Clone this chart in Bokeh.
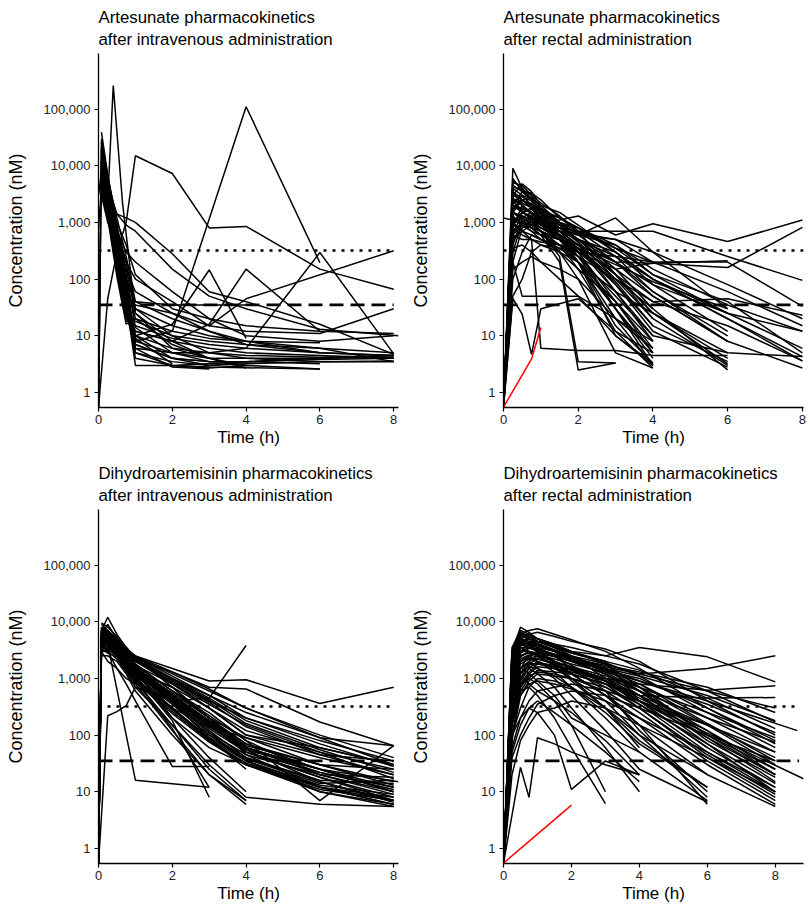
from bokeh.plotting import figure
from bokeh.models import FixedTicker, NumeralTickFormatter, Range1d, Title
from bokeh.layouts import column, row
from bokeh.embed import file_html
from bokeh.resources import INLINE

N = None

TIME_TICKS = [0, 2, 4, 6, 8]
CONC_TICKS = [1, 10, 100, 1000, 10000, 100000]
REF_DOTTED = 320
REF_DASHED = 35

TITLES = [
    "Artesunate pharmacokinetics\nafter intravenous administration",
    "Artesunate pharmacokinetics\nafter rectal administration",
    "Dihydroartemisinin pharmacokinetics\nafter intravenous administration",
    "Dihydroartemisinin pharmacokinetics\nafter rectal administration",
]

# ---------------- Artesunate, intravenous ----------------
T_AS_IV = [0, 0.08, 0.25, 0.4, 0.5, 0.65, 0.75, 1, 2, 3, 4, 6, 8, 8.13]
AS_IV = [
    [N, 39000, 7000, N, 900, N, 120, 14, 5, 3.5, N, N, N, N],
    [0.55, 28000, 5000, N, 600, N, 80, 9, 3.2, N, N, N, N, N],
    [N, 20000, 4200, N, 500, N, 60, 6, 2.8, 2.6, N, N, N, N],
    [N, 15000, 3500, N, 420, N, 45, 4, 3, 2.7, 3, 2.6, N, N],
    [0.55, 12000, 3000, N, 350, N, 40, 3, 3, N, 3.5, N, N, N],
    [N, 10000, 2800, N, 300, N, 35, 5, 3.5, 3, 3.2, 3.5, 3.6, N],
    [N, 9000, 2500, N, 260, N, 30, 7, 4, 3.5, 3.5, 3.8, 4, N],
    [3000, 8000, 2200, N, 240, N, 28, 8, 5, 4, 4, 4, 4.2, N],
    [N, 7000, 2000, N, 200, N, 25, 10, 6, 5, 4.5, 4.2, 4.5, N],
    [N, 6000, 1800, N, 180, N, 22, 12, 8, 6, 5, 4.5, 4, N],
    [N, 5000, 1500, N, 150, N, 20, 15, 9, 7, 6, 5, 4.5, N],
    [800, 4000, 1300, N, 130, N, 18, 18, 10, 8, 7, 6, 5, N],
    [N, 3500, 1200, N, 110, N, 16, 20, 12, 9, 8, 7.5, N, N],
    [N, 3000, 1000, N, 400, N, 100, 40, 20, 12, 7, 5, 4.5, N],
    [N, 25000, 6000, N, 1200, N, 250, 40, 35, 35, 35, N, N, N],
    [N, 18000, 4500, N, 1400, N, 1200, 1000, 280, 60, 40, 16, 4.7, N],
    [N, 8000, 3000, N, 1400, N, 900, 700, 150, 50, 30, 13, N, 10],
    [N, 5000, 2400, 260000, N, 2240, N, 25, 6, 4, N, N, N, N],
    [0.55, N, 45, N, 300, N, 1000, 15000, 7300, 800, 850, 150, 66, N],
    [N, 12000, 3000, N, 400, N, 50, 8, 12, N, 110000, 195, N, N],
    [N, 9000, 2600, N, 350, N, 40, 10, 16, 145, 9, N, N, N],
    [N, 7000, 2000, N, 250, N, 30, 12, 8, 16, 150, 12, N, N],
    [N, 6000, 1700, N, 200, N, 25, 6, 5, 5, 6, 295, 4.8, N],
    [N, 5000, 1500, N, 500, N, 150, 60, 25, 15, 45, N, 316, N],
    [N, 30000, 6500, N, 800, N, 200, 30, 10, 5, 4, 3.5, 3.5, N],
    [N, 22000, 5500, N, 700, N, 150, 25, 8, 4, 3, N, N, N],
    [N, 16000, 4000, N, 600, N, 100, 20, 7, 4, 2.7, N, N, N],
    [N, 11000, 3200, N, 450, N, 70, 10, 4, 3.5, 3.5, 3.2, N, N],
    [N, 4500, 1400, N, 700, N, 300, 200, 60, 20, 10, 8, 10, N],
    [N, 3800, 1600, N, 500, N, 200, 100, 40, 15, 12, 11, 30, N],
    [N, 6500, 2000, N, 300, N, 60, 30, 15, 10, 8, 6, 3.5, N],
    [N, 14000, 3800, N, 550, N, 90, 7, 4, 3, 3.5, 4, 4.5, N],
    [N, 2500, 2000, N, 1000, N, 400, 120, 30, 20, 15, 12, 11, N],
    [N, 10000, 2900, N, 320, N, 45, 35, 25, 12, 8, 5, N, N],
    [0.55, 20000, 5000, N, 700, N, 90, 5, 3, 2.8, N, 2.6, N, N],
]

# ---------------- Artesunate, rectal ----------------
T_AS_RECT = [0, 0.25, 0.5, 0.75, 1, 1.5, 2, 3, 4, 6, 8]
AS_RECT = [
    [0.55, 9000, 4000, 2500, 1500, 700, 400, 80, 15, N, N],
    [0.55, 5000, 4500, 3000, 1800, 900, 500, 150, 30, N, N],
    [0.55, 3000, 4800, 3500, 2000, 1000, 600, 200, 50, 8, N],
    [0.55, 2000, 3500, 3300, 2500, 1200, 700, 250, 60, 10, N],
    [0.55, 1500, 2500, 2800, 1500, 800, 450, 100, 20, 3, N],
    [0.55, 800, 2000, 2200, 1200, 700, 400, 120, 25, 4, N],
    [0.55, 600, 1500, 1800, 1100, 600, 350, 60, 10, N, N],
    [0.55, 400, 1200, 1500, 1000, 550, 300, 40, 5, N, N],
    [0.55, 300, 1000, 1300, 900, 500, 250, 30, 3, N, N],
    [0.55, 200, 800, 1100, 1300, 800, 500, 250, 100, 20, 4.3],
    [0.55, 1200, 1000, 900, 1000, 1100, 1300, 600, 950, 460, 1100],
    [0.55, 700, 900, 800, 700, 500, 400, 200, 190, 160, 820],
    [0.55, 2500, 1500, 1200, 900, 700, 600, 1200, 300, 30, N],
    [0.55, 3500, 2000, 1400, 1100, 800, 700, 700, 700, 250, 95],
    [0.55, 1800, 1700, 1500, 1200, 900, 650, 500, 200, 200, 33],
    [0.55, 1000, 1500, 1300, 1000, 700, 500, 150, 190, 210, N],
    [0.55, 500, 800, 1000, 800, 600, 400, 120, 40, 45, 23],
    [0.55, 4000, 3000, 2000, 1200, 600, 250, 50, 10, 5, 4.3],
    [0.55, 6000, 3500, 2500, 1400, 700, 300, 30, 4, N, N],
    [0.55, 2500, 2200, 1800, 1000, 500, 200, 20, 3, N, N],
    [0.55, 1500, 1200, 1000, 700, 400, 150, 12, 2.7, N, N],
    [0.55, 45, 24, 4.7, 30, N, 45, 12, 5, N, N],
    [0.55, 100, 300, 600, 500, 300, 150, 40, 8, N, N],
    [0.55, 1000, 700, 500, 6, N, 5.5, 5.5, 4.5, 4.5, N],
    [0.55, 200, 50, N, N, N, 50, 20, 8, N, N],
    [0.55, 3000, 2500, 2000, 1500, 1000, 800, 300, 100, 20, 3.6],
    [0.55, 2000, 1800, 1500, 1100, 800, 600, 400, 150, 35, 12],
    [0.55, 1500, 1300, 1100, 900, 700, 500, 300, 100, 25, 12],
    [0.55, 3500, 2500, 1800, 1200, 800, 500, 200, 60, 8, 2.7],
    [0.55, 1200, 1000, 800, 600, 400, 250, 100, 40, 15, 3.6],
    [0.55, 800, 600, 500, 400, 350, 300, 250, 200, N, N],
    [0.55, 4500, 3500, 2500, 1500, 600, 200, 15, 3.3, N, N],
    [0.55, 2000, 1500, 1200, 900, 500, 200, 10, 3, N, N],
    [0.55, 1000, 1200, 900, 700, 300, 100, 5, 2.7, N, N],
    [0.55, 1500, 1100, 800, 600, 200, 2.5, 3.3, N, N, N],
    [0.55, 2000, 1600, 1100, 700, 250, 3.5, 3.3, N, N, N],
    [0.55, 700, 1000, 800, 600, 400, 200, 40, 6, N, N],
    [0.55, 2500, 2000, 1500, 1000, 600, 350, 100, 30, 2.5, N],
    [0.55, 1300, 900, 700, 500, 350, 200, 60, 25, 3.2, N],
    [0.55, 900, 700, 600, 500, 400, 300, 150, 50, 8, N],
    [0.55, 600, 500, 500, 450, 400, 350, 80, 12, 2.8, N],
    [0.55, 350, 400, 300, 200, 100, 50, 10, 3.3, N, N],
    [0.55, 150, 200, 250, 200, 150, 100, 20, 6, N, N],
    [0.55, 50, 100, 300, 400, 300, 200, 30, 5, N, N],
    [1200, 1100, 900, 700, 600, 500, 400, 200, 80, 25, N],
    [0.55, 2200, 3000, 2600, 2000, 1500, 900, 300, 80, 12, N],
    [0.55, 1800, 2500, 2000, 1600, 1200, 800, 400, 120, 25, 6],
    [0.55, 900, 1500, 1700, 1400, 1000, 700, 350, 200, 60, 15],
    [0.55, 4200, 3800, 3000, 2200, 1300, 700, 120, 20, N, N],
    [0.55, 3200, 2800, 2400, 1800, 1000, 450, 60, 8, N, N],
    [0.55, 600, 900, 1200, 1000, 800, 600, 500, 300, 80, 20],
    [0.55, 2600, 2400, 2100, 1700, 1200, 800, 350, 120, 40, 5],
    [0.55, 1100, 1300, 1100, 800, 500, 300, 90, 15, 3.5, N],
    [0.55, 500, 700, 900, 700, 500, 350, 180, 90, 30, N],
    [0.55, 5500, 4000, 2600, 1600, 900, 500, 120, 25, 5, N],
]
RED_AS_RECT_T = [0, 0.75, 1]
RED_AS_RECT_C = [0.55, 3.9, 14]

# ---------------- Dihydroartemisinin, intravenous ----------------
T_DHA_IV = [0, 0.08, 0.25, 0.5, 0.75, 1, 2, 3, 4, 6, 8, 8.13]
DHA_IV = [
    [0.55, 8000, 6000, 4000, 2800, 2000, 900, 400, 200, 80, 35, N],
    [0.55, 7000, 12000, 6000, 3500, 2200, 800, 300, 120, 50, 25, N],
    [0.55, 6000, 9000, 5000, 3000, 1800, 600, 200, 90, 30, 15, N],
    [0.55, 5000, 7000, 4500, 2800, 1600, 500, 180, 70, 25, 10, N],
    [0.55, 4500, 6000, 4000, 2500, 1500, 450, 150, 50, 18, 8, N],
    [0.55, 4000, 5500, 3800, 2300, 1400, 400, 120, 40, 15, 7, N],
    [0.55, 3500, 5000, 3500, 2100, 1300, 350, 100, 35, 12, 6, N],
    [0.55, 3000, 4500, 3200, 2000, 1200, 300, 80, 30, 10, 5.5, N],
    [N, 8000, 7000, 5000, 3300, 2400, 1200, 600, 300, 100, 40, N],
    [N, 7500, 6500, 4500, 3000, 2000, 1000, 500, 250, 90, 30, N],
    [N, 6000, 5500, 4500, 3200, 2500, 1500, 900, 950, 360, 700, N],
    [0.55, 5000, 4500, 3800, 3000, 2200, 1300, 700, 650, 170, 65, N],
    [N, 5000, 4000, N, N, 16, N, 12, N, N, N, N],
    [0.55, 3000, 2000, 1500, 1000, 800, 400, 450, 3800, N, N, N],
    [0.55, N, 220, 260, 330, 700, 400, 150, 50, 18, 7, N],
    [N, 4000, 3000, 1500, 800, 400, 28, 28, N, N, N, N],
    [0.55, 6500, 5000, 3000, 1800, 1000, 200, 40, 10, N, N, N],
    [0.55, 5500, 4500, 2800, 1600, 900, 150, 25, 7, N, N, N],
    [0.55, 5000, 4000, 2500, 1400, 800, 120, 20, 6, N, N, N],
    [N, 7000, 5500, 3500, 2000, 1100, 180, 8, N, N, N, N],
    [N, 6000, 5000, 3000, 1700, 900, 130, 12, N, N, N, N],
    [N, 6500, 5200, 3500, 2200, 1400, 500, 150, 60, 20, 10, N],
    [N, 5000, 4800, 3300, 2100, 1300, 450, 140, 55, 25, 12, N],
    [N, 4800, 4500, 3100, 2000, 1250, 420, 130, 50, 22, 11, N],
    [N, 4500, 4200, 3000, 1900, 1200, 380, 110, 45, 20, 18, N],
    [N, 4000, 4000, 2900, 1800, 1100, 350, 100, 40, 16, 14, N],
    [N, 3800, 3800, 2800, 1700, 1000, 300, 90, 38, 14, 16, N],
    [N, 3500, 3600, 2700, 1600, 950, 280, 85, 35, 13, 9, N],
    [N, 3200, 3400, 2600, 1500, 900, 260, 80, 32, 12, 8, N],
    [N, 3000, 3200, 2500, 1400, 850, 240, 75, 30, 11, 7, N],
    [N, 7000, 6000, 4500, 3200, 2300, 1000, 450, 180, 60, 30, N],
    [N, 7500, 6200, 4600, 3300, 2400, 1100, 500, 200, 70, 28, N],
    [N, 6800, 5800, 4400, 3100, 2200, 950, 420, 160, 55, 22, N],
    [N, 6200, 5500, 4200, 3000, 2100, 850, 380, 140, 45, 20, N],
    [N, 8000, 6500, 4800, 3400, 2500, 1300, 650, 300, 90, 65, N],
    [N, 5800, 5000, 3800, 2600, 1700, 600, 250, 80, 7, 65, N],
    [N, 9000, 7000, 4000, 2500, 1500, 500, 180, 60, 25, N, 15],
    [N, 4500, 4000, 3000, 2000, 1300, 700, 300, 100, 60, 30, N],
    [N, 5500, 4800, 3600, 2400, 1500, 550, 200, 70, 30, 25, N],
    [N, 3000, 3000, 2200, 1300, 700, 150, 30, 8, 6, 5.5, N],
    [0.55, 2500, 2500, 2000, 1200, 600, 100, 20, 7, N, N, N],
    [N, 6000, 5500, 3800, 2300, 1400, 200, 60, 30, 12, 6, N],
    [N, 3300, 2800, 2400, 1500, 1000, 300, 140, 90, 40, 20, N],
    [N, 4200, 3900, 3000, 2000, 1400, 700, 200, 60, 25, 10, N],
    [N, 7800, 7000, 5000, 3300, 2000, 800, 300, 100, 45, 35, N],
    [0.55, 7000, 6000, 4200, 2600, 1700, 600, 220, 80, 20, 9, N],
    [N, 6500, 5500, 3900, 2500, 1600, 520, 170, 55, 15, 6.5, N],
    [0.55, 5500, 5000, 3400, 2200, 1450, 480, 160, 60, 22, 12, N],
    [N, 9500, 8000, 5500, 3600, 2300, 700, 200, 45, 12, 7, N],
    [N, 4600, 4400, 3500, 2400, 1700, 800, 350, 150, 50, 17, N],
    [N, 5200, 4700, 3300, 2100, 1300, 380, 90, 25, N, N, N],
    [0.55, 6000, 5200, 3600, 2300, 1500, 420, 110, 35, 10, 6, N],
    [N, 3600, 3500, 2700, 1800, 1200, 450, 170, 65, 30, 13, N],
]

# ---------------- Dihydroartemisinin, rectal ----------------
T_DHA_RECT = [0, 0.25, 0.5, 0.75, 1, 1.5, 2, 3, 4, 6, 8, 8.65, 8.83]
DHA_RECT = [
    [0.55, 3000, 8000, 6500, 5000, 3500, 2500, 1000, 400, 60, N, N, N],
    [0.55, 2000, 6000, 7000, 7500, 6000, 4800, 3000, 1500, 300, 80, N, N],
    [0.55, 1500, 5000, 6000, 6500, 5500, 4500, 3300, 2000, 400, 100, N, N],
    [0.55, 1000, 4000, 5500, 5000, 4000, 3000, 2500, 3500, 2400, 870, N, N],
    [0.55, 800, 3000, 4000, 3500, 3000, 2500, 1800, 1200, 1500, 2500, N, N],
    [0.55, 1200, 3500, 3000, 2500, 2000, 1500, 1000, 800, 620, 740, N, N],
    [0.55, 600, 2000, 2500, 2000, 1500, 1200, 800, 500, 450, 460, N, N],
    [0.55, 1500, 5500, 5000, 4000, 3000, 2200, 1500, 900, 400, N, 120, N],
    [0.55, 2500, 6000, 5500, 4500, 3500, 2800, 2000, 400, N, N, N, 17],
    [0.55, 500, 1500, 2500, 3000, 2500, 2000, 1200, 600, 100, 25, N, N],
    [0.55, 400, 1200, 2000, 2500, 2000, 1600, 900, 400, 60, 12, N, N],
    [0.55, 300, 1000, 1800, 2200, 1800, 1400, 700, 300, 40, 8, N, N],
    [0.55, 250, 900, 1500, 2000, 1500, 1200, 500, 200, 30, 6, N, N],
    [0.55, 200, 800, 1300, 1800, 1600, 1500, 1000, 500, 150, 30, N, N],
    [0.55, 150, 700, 1200, 1600, 1500, 1300, 900, 450, 120, 20, N, N],
    [0.55, 100, 600, 1000, 1400, 1300, 1200, 800, 400, 90, 15, N, N],
    [0.55, 80, 500, 900, 1200, 1100, 1000, 700, 350, 70, 10, N, N],
    [0.55, 3500, 7000, 6000, 5000, 3800, 3000, 1800, 700, 100, 20, N, N],
    [0.55, 3000, 6500, 5500, 4500, 3500, 2500, 1500, 600, 80, 18, N, N],
    [0.55, 2000, 5000, 4500, 4000, 3000, 2000, 1200, 500, 70, 14, N, N],
    [0.55, 1500, 4500, 4000, 3500, 2500, 1700, 900, 350, 50, 10, N, N],
    [0.55, 1000, 3000, 3500, 3000, 2000, 1200, 500, 150, 20, N, N, N],
    [0.55, 800, 2500, 3000, 2500, 1700, 900, 300, 80, 12, N, N, N],
    [0.55, 600, 2000, 2500, 2000, 1300, 700, 200, 50, 7, N, N, N],
    [0.55, 500, 1500, 2000, 1500, 1000, 500, 120, 25, 6.6, N, N, N],
    [0.55, 400, 1000, 1500, 1200, 700, 300, 60, 10, N, N, N, N],
    [0.55, 300, 800, 1000, 800, 400, 150, 10, N, N, N, N, N],
    [0.55, 200, 600, 700, 500, 200, 60, 6.2, N, N, N, N, N],
    [0.55, N, 27, 8, 90, 70, 50, 30, 20, N, N, N, N],
    [0.55, 1070, 1070, 800, 600, 400, 250, 80, 20, N, N, N, N],
    [0.55, 100, 200, 300, 250, 100, 11, 35, 20, N, N, N, N],
    [0.55, 2500, 5000, 4000, 3000, 2000, 1500, 1000, 800, 200, 50, N, N],
    [0.55, 1800, 4000, 3500, 3000, 2500, 2000, 1400, 1000, 300, 70, N, N],
    [0.55, 1200, 3000, 3000, 2800, 2400, 2000, 1500, 1100, 500, 180, N, N],
    [0.55, 900, 2500, 2800, 2600, 2200, 1800, 1300, 900, 350, 110, N, N],
    [0.55, 700, 2000, 2300, 2200, 1900, 1600, 1100, 700, 250, 90, N, N],
    [0.55, 500, 1500, 1800, 1800, 1600, 1400, 1000, 600, 200, 75, N, N],
    [0.55, 2200, 4500, 4200, 3800, 3000, 2400, 1600, 1200, 600, 300, N, N],
    [0.55, 60, 200, 400, 600, 700, 800, 600, 400, 150, 50, N, N],
    [0.55, 40, 100, 200, 350, 500, 600, 500, 300, 100, 35, N, N],
    [0.55, 20, 80, 150, 250, 300, 400, 300, 150, 40, 10, N, N],
    [0.55, 50, 150, 300, 400, 250, 150, 50, 15, N, N, N, N],
    [0.55, 100, 300, 700, 1000, 900, 700, 300, 100, 20, 5.5, N, N],
    [0.55, 1800, 5500, 6000, 5000, 4000, 3500, 2500, 1800, 600, 170, N, N],
    [0.55, 1000, 4000, 4500, 4500, 3800, 3000, 2000, 1400, 450, 130, N, N],
    [0.55, 500, 1800, 2200, 2000, 1500, 1000, 400, 100, 8, N, N, N],
    [0.55, 700, 2200, 2600, 2400, 1800, 1200, 500, 150, 6, N, N, N],
    [0.55, 1500, 4000, 3800, 3000, 2000, 1000, 300, 60, N, N, N, N],
    [0.55, 2500, 5000, 4500, 3500, 2500, 1500, 600, 120, 10, N, N, N],
    [0.55, 1600, 1550, 1200, 900, 500, 200, 100, 50, N, N, N, N],
    [0.55, 1200, 3800, 4200, 3800, 3000, 2300, 1300, 600, 120, 25, N, N],
    [0.55, 900, 2800, 3400, 3200, 2600, 2100, 1400, 800, 160, 35, N, N],
    [0.55, 700, 2400, 3000, 2700, 2000, 1500, 800, 300, 45, 9, N, N],
    [0.55, 350, 1200, 1700, 1900, 1700, 1400, 900, 500, 90, 20, N, N],
    [0.55, 2800, 6000, 5000, 4200, 3200, 2400, 1400, 700, 150, 40, N, N],
    [0.55, 450, 1300, 1600, 1500, 1100, 700, 250, 70, 12, N, N, N],
    [0.55, 150, 500, 800, 900, 800, 650, 400, 200, 50, 12, N, N],
    [0.55, 2000, 4500, 5000, 4500, 3600, 2800, 1900, 1100, 250, 60, N, N],
    [0.55, 1300, 3500, 3600, 3300, 2700, 2200, 1700, 1300, 700, 250, N, N],
    [0.55, 250, 700, 1100, 1300, 1200, 1000, 600, 250, 35, 7, N, N],
]
RED_DHA_RECT_T = [0, 2]
RED_DHA_RECT_C = [0.55, 5.8]

FONT = "Liberation Sans"


def build(title, times, rows, xmax, ref_end, red_t=None, red_c=None):
    p = figure(width=405, height=456, title=None, y_axis_type="log",
               x_range=Range1d(0, xmax), y_range=Range1d(0.543, 955000),
               output_backend="svg", toolbar_location=None,
               min_border_left=98, min_border_right=7,
               min_border_top=53, min_border_bottom=49)
    p.outline_line_color = None
    p.grid.visible = False
    p.background_fill_color = "white"
    p.border_fill_color = "white"

    xs, ys = [], []
    for r in rows:
        pts = [(t, c) for t, c in zip(times, r) if c is not None]
        xs.append([t for t, _ in pts])
        ys.append([c for _, c in pts])
    p.multi_line(xs, ys, line_color="black", line_width=1.5)
    if red_t is not None:
        p.line(red_t, red_c, line_color="#ff0000", line_width=1.5)
    p.line([0, ref_end], [REF_DOTTED, REF_DOTTED], line_color="black",
           line_width=2.6, line_dash="3 6")
    p.line([0, ref_end], [REF_DASHED, REF_DASHED], line_color="black",
           line_width=2.8, line_dash="14 7")

    for ax in (p.xaxis[0], p.yaxis[0]):
        ax.axis_line_color = "black"
        ax.axis_line_width = 1.3
        ax.major_tick_line_color = "black"
        ax.major_tick_line_width = 1.2
        ax.major_tick_out = 4
        ax.major_tick_in = 0
        ax.minor_tick_line_color = None
        ax.major_label_text_font = FONT
        ax.major_label_text_font_size = "13px"
        ax.major_label_text_color = "#222222"
        ax.axis_label_text_font = FONT
        ax.axis_label_text_font_style = "normal"
        ax.axis_label_text_color = "black"
    p.xaxis.axis_label_text_font_size = "17px"
    p.yaxis.axis_label_text_font_size = "18px"
    p.xaxis.ticker = FixedTicker(ticks=TIME_TICKS)
    p.yaxis.ticker = FixedTicker(ticks=CONC_TICKS)
    p.yaxis.formatter = NumeralTickFormatter(format="0,0")
    p.xaxis.axis_label = "Time (h)"
    p.yaxis.axis_label = "Concentration (nM)"
    p.xaxis.major_label_standoff = 3
    p.yaxis.major_label_standoff = 4
    p.xaxis.axis_label_standoff = 1
    p.yaxis.axis_label_standoff = 15

    p.add_layout(Title(text=title, align="left", text_font=FONT,
                       text_font_size="16.8px", text_font_style="normal",
                       text_color="black", text_line_height=1.15,
                       standoff=9), "above")
    return p


p1 = build(TITLES[0], T_AS_IV, AS_IV, 8.13, 8)
p2 = build(TITLES[1], T_AS_RECT, AS_RECT, 8.03, 8.03,
           RED_AS_RECT_T, RED_AS_RECT_C)
p3 = build(TITLES[2], T_DHA_IV, DHA_IV, 8.13, 8)
p4 = build(TITLES[3], T_DHA_RECT, DHA_RECT, 8.83, 8.7,
           RED_DHA_RECT_T, RED_DHA_RECT_C)

layout = column(row(p1, p2), row(p3, p4))
open("out.html", "w").write(file_html(layout, INLINE))
